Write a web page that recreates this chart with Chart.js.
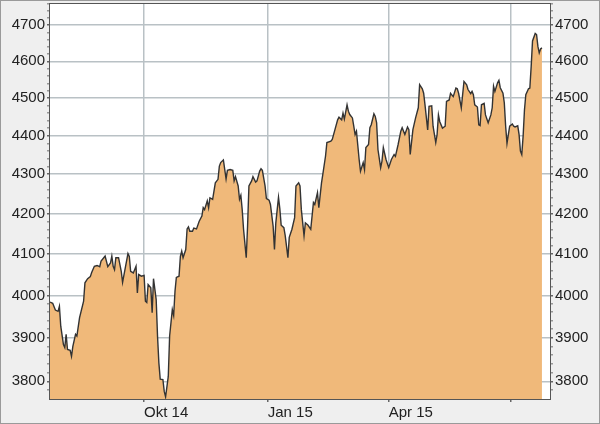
<!DOCTYPE html>
<html>
<head>
<meta charset="utf-8">
<title>Index chart</title>
<script src="https://cdn.jsdelivr.net/npm/chart.js@4.4.1/dist/chart.umd.min.js"></script>
<style>
    html, body { margin: 0; padding: 0; background: #efefef; }
    #wrap { width: 600px; height: 424px; }
</style>
</head>
<body>
<div id="wrap"><canvas id="chart" width="600" height="424"></canvas></div>
<script>
// calendar days since 23 Jul 2014
const days = [
    0, 2, 4, 6, 7, 8, 10, 11, 12, 13,
    15, 16, 17, 19, 20, 22, 25, 26, 28, 30,
    31, 33, 35, 37, 38, 40, 41, 43, 45, 46,
    47, 48, 49, 51, 53, 54, 56, 58, 59, 60,
    62, 64, 65, 66, 68, 70, 71, 72, 73, 75,
    76, 77, 79, 80, 81, 82, 84, 85, 86, 88,
    89, 91, 92, 93, 94, 96, 97, 98, 99, 101,
    102, 103, 104, 106, 107, 109, 111, 113, 114, 115,
    117, 118, 119, 121, 122, 123, 125, 126, 127, 129,
    131, 132, 134, 136, 137, 138, 140, 141, 142, 143,
    144, 146, 147, 148, 150, 151, 153, 154, 156, 157,
    158, 160, 161, 163, 164, 166, 167, 168, 170, 171,
    172, 174, 175, 177, 178, 180, 182, 183, 185, 186,
    187, 189, 190, 192, 194, 196, 197, 199, 200, 202,
    203, 205, 206, 209, 210, 212, 214, 215, 217, 218,
    219, 221, 222, 223, 225, 226, 227, 228, 230, 231,
    233, 234, 235, 237, 238, 239, 241, 242, 243, 244,
    246, 247, 248, 250, 252, 254, 256, 257, 259, 261,
    262, 264, 266, 267, 268, 270, 272, 274, 275, 277,
    278, 279, 281, 282, 284, 285, 287, 288, 289, 290,
    292, 294, 295, 297, 298, 300, 302, 303, 304, 306,
    308, 310, 311, 313, 314, 315, 316, 318, 319, 320,
    321, 323, 324, 326, 328, 329, 330, 331, 333, 334,
    335, 337, 338, 339, 340, 341, 342, 344, 345, 346,
    348, 349, 350, 351, 352, 353, 354, 356, 357, 358,
    359, 361, 362, 363, 364, 365, 366
];

const closes = [
    3984, 3981, 3965, 3962, 3974, 3927, 3884, 3877, 3908, 3873,
    3871, 3857, 3880, 3908, 3904, 3947, 3986, 4030, 4040, 4045,
    4055, 4070, 4072, 4069, 4083, 4091, 4095, 4069, 4078, 4095,
    4070, 4062, 4091, 4091, 4058, 4031, 4066, 4101, 4094, 4058,
    4054, 4070, 4006, 4050, 4046, 4048, 3986, 3983, 4026, 4018,
    3959, 4040, 3990, 3904, 3842, 3805, 3804, 3777, 3765, 3811,
    3904, 3966, 3952, 4010, 4043, 4046, 4094, 4107, 4091, 4111,
    4162, 4167, 4156, 4156, 4164, 4162, 4181, 4194, 4215, 4210,
    4232, 4215, 4240, 4236, 4257, 4278, 4287, 4321, 4330, 4337,
    4288, 4310, 4312, 4310, 4283, 4294, 4270, 4236, 4246, 4210,
    4161, 4091, 4169, 4270, 4283, 4294, 4280, 4283, 4308, 4314,
    4310, 4270, 4238, 4234, 4223, 4169, 4111, 4177, 4241, 4212,
    4171, 4165, 4145, 4091, 4141, 4161, 4190, 4270, 4278, 4270,
    4210, 4145, 4177, 4171, 4161, 4228, 4223, 4253, 4215, 4278,
    4300, 4347, 4382, 4386, 4390, 4416, 4442, 4449, 4442, 4460,
    4444, 4482, 4465, 4456, 4447, 4425, 4403, 4412, 4338, 4308,
    4330, 4312, 4369, 4377, 4421, 4429, 4458, 4451, 4434, 4364,
    4317, 4334, 4369, 4338, 4317, 4338, 4351, 4346, 4377, 4412,
    4421, 4403, 4423, 4416, 4351, 4416, 4447, 4474, 4536, 4525,
    4513, 4482, 4415, 4478, 4479, 4425, 4382, 4403, 4455, 4437,
    4420, 4425, 4491, 4495, 4513, 4504, 4527, 4525, 4513, 4474,
    4545, 4536, 4523, 4512, 4518, 4509, 4482, 4476, 4429, 4427,
    4482, 4486, 4455, 4434, 4455, 4474, 4532, 4518, 4541, 4548,
    4528, 4513, 4487, 4425, 4380, 4403, 4425, 4431, 4425, 4423,
    4426, 4403, 4360, 4351, 4399, 4468, 4509, 4525, 4527, 4586,
    4656, 4677, 4674, 4641, 4623, 4634, 4637
];

// quarter starts (Okt 1, Jan 1, Apr 1, Jul 1)
const xTickDays = [70, 162, 252, 343];
const xTickLabels = ['Okt 14', 'Jan 15', 'Apr 15', ''];

const yMin = 3760;
const yMax = 4760;
const yMajorStep = 100;
const yMinorStep = 20;

const gridColor = '#b9c1c5';
const font = { family: 'Liberation Sans, Arial, sans-serif', size: 15 };

const yTicks = [];
for (let v = 3780; v <= yMax; v += yMinorStep) yTicks.push(v);

const isMajor = (v) => v % yMajorStep === 0;

// background, plot frame and outer border
const framePlugin = {
    id: 'frame',
    beforeDraw(chart) {
        const { ctx, chartArea: a } = chart;
        ctx.save();
        ctx.fillStyle = '#efefef';
        ctx.fillRect(0, 0, chart.width, chart.height);
        ctx.fillStyle = '#ffffff';
        ctx.fillRect(a.left, a.top, a.right - a.left, a.bottom - a.top);
        ctx.restore();
    },
    afterDraw(chart) {
        const { ctx, chartArea: a } = chart;
        ctx.save();
        ctx.strokeStyle = '#555';
        ctx.lineWidth = 1;
        ctx.strokeRect(a.left - 0.5, a.top - 0.5, a.right - a.left + 1, a.bottom - a.top + 1);
        ctx.strokeStyle = '#9a9a9a';
        ctx.strokeRect(0.5, 0.5, chart.width - 1, chart.height - 1);
        ctx.restore();
    }
};

const yAxis = (position) => ({
    type: 'logarithmic',
    position: position,
    min: yMin,
    max: yMax,
    afterBuildTicks: (scale) => { scale.ticks = yTicks.map(v => ({ value: v, major: isMajor(v) })); },
    afterFit: (scale) => {
        scale.width = 50;
        scale.paddingTop = 0;
        scale.paddingBottom = 0;
    },
    border: { display: false },
    grid: {
        drawOnChartArea: position === 'left',
        color: (c) => (c.tick && isMajor(c.tick.value)) ? gridColor : 'rgba(0,0,0,0)',
        lineWidth: 1.5,
        tickColor: (c) => (c.tick && isMajor(c.tick.value)) ? '#666' : '#999',
        tickLength: 3
    },
    ticks: {
        autoSkip: false,
        color: '#222',
        font: font,
        padding: 2,
        callback: (v) => isMajor(v) ? String(v) : ''
    }
});

const ctx = document.getElementById('chart').getContext('2d');
new Chart(ctx, {
    type: 'line',
    data: {
        datasets: [{
            data: days.map((d, i) => ({ x: d, y: closes[i] })),
            borderColor: '#333333',
            borderWidth: 1.4,
            backgroundColor: '#f0b97a',
            fill: 'start',
            pointRadius: 0,
            tension: 0,
            yAxisID: 'y'
        }]
    },
    options: {
        responsive: false,
        animation: false,
        layout: { padding: { top: 4, left: 0, right: 0, bottom: 0 } },
        plugins: {
            legend: { display: false },
            tooltip: { enabled: false }
        },
        scales: {
            x: {
                type: 'linear',
                min: 0,
                max: 372,
                afterBuildTicks: (scale) => { scale.ticks = xTickDays.map(v => ({ value: v })); },
                afterFit: (scale) => {
                    scale.height = 25;
                    scale.paddingLeft = 0;
                    scale.paddingRight = 0;
                },
                border: { display: false },
                grid: { color: gridColor, lineWidth: 1.5, tickColor: '#666', tickLength: 3 },
                ticks: {
                    autoSkip: false,
                    maxRotation: 0,
                    align: 'start',
                    color: '#222',
                    font: font,
                    padding: 2,
                    callback: (v) => xTickLabels[xTickDays.indexOf(v)] || ''
                }
            },
            y: yAxis('left'),
            y2: yAxis('right')
        }
    },
    plugins: [framePlugin]
});
</script>
</body>
</html>
